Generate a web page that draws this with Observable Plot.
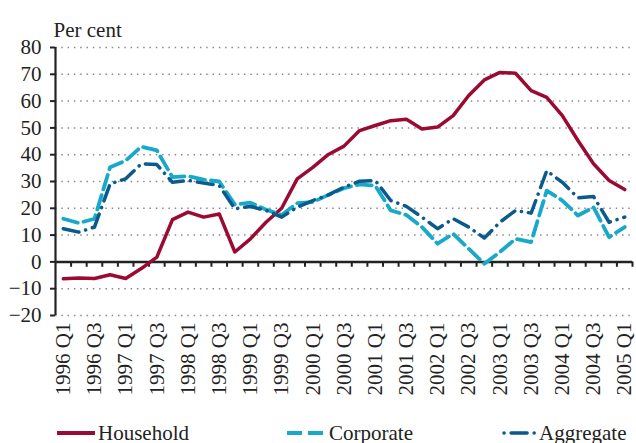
<!DOCTYPE html>
<html>
<head>
<meta charset="utf-8">
<script src="https://cdn.jsdelivr.net/npm/d3@7"></script>
<script src="https://cdn.jsdelivr.net/npm/@observablehq/plot@0.6"></script>
<style>
  html, body { margin: 0; padding: 0; background: #fff; }
  #wrap { position: relative; width: 636px; height: 443px; overflow: hidden; font-family: "Liberation Serif", serif; color: #222; }
  .leg { position: absolute; top: 420px; height: 26px; display: flex; align-items: center; font-size: 21px; white-space: nowrap; }
  .leg svg { margin-right: 2px; }
</style>
</head>
<body>
<div id="wrap">
  <div id="chart"></div>
  <div class="leg" style="left:56px"><svg width="40" height="10"><line x1="1" y1="5" x2="39" y2="5" stroke="#9b0a33" stroke-width="4"/></svg>Household</div>
  <div class="leg" style="left:287px"><svg width="40" height="10"><line x1="0" y1="5" x2="40" y2="5" stroke="#18a9c9" stroke-width="4" stroke-dasharray="15,6"/></svg>Corporate</div>
  <div class="leg" style="left:501px"><svg width="36" height="10"><line x1="3" y1="5" x2="34" y2="5" stroke="#0a5a8c" stroke-width="3.5" stroke-linecap="round" stroke-dasharray="0.1,7,16,7"/></svg>Aggregate</div>
</div>
<script>
const quarters = [
  "1996 Q1","1996 Q2","1996 Q3","1996 Q4",
  "1997 Q1","1997 Q2","1997 Q3","1997 Q4",
  "1998 Q1","1998 Q2","1998 Q3","1998 Q4",
  "1999 Q1","1999 Q2","1999 Q3","1999 Q4",
  "2000 Q1","2000 Q2","2000 Q3","2000 Q4",
  "2001 Q1","2001 Q2","2001 Q3","2001 Q4",
  "2002 Q1","2002 Q2","2002 Q3","2002 Q4",
  "2003 Q1","2003 Q2","2003 Q3","2003 Q4",
  "2004 Q1","2004 Q2","2004 Q3","2004 Q4",
  "2005 Q1"
];
const household = [-6.3,-6.0,-6.2,-4.8,-6.2,-2.5,1.8,15.8,18.6,16.7,17.9,3.7,8.6,14.8,20.0,31.0,35.3,40.1,43.2,49.0,50.9,52.7,53.2,49.6,50.3,54.6,62.1,67.9,70.7,70.4,63.9,61.4,54.6,45.3,36.6,30.4,27.0];
const corporate = [16.1,14.5,16.1,35.3,37.8,43.0,41.6,31.6,32.0,30.7,30.0,21.4,22.1,19.5,17.5,21.9,22.3,25.0,27.5,28.9,28.5,19.2,17.5,13.0,6.8,10.5,4.9,-0.7,3.7,8.6,7.4,26.6,22.9,17.3,20.4,9.2,13.0];
const aggregate = [12.4,11.1,13.0,29.1,31.0,36.6,36.3,29.7,30.4,29.4,28.5,19.8,20.7,19.2,16.7,20.4,22.9,25.0,27.9,30.1,30.4,22.9,20.7,16.7,12.4,16.1,13.0,8.9,14.8,19.2,18.2,34.0,29.7,23.9,24.4,14.8,16.7];
const yTicks = [-20,-10,0,10,20,30,40,50,60,70,80];
const yLabel = "Per cent";

const idx = quarters.map((q, i) => i);
const labelIdx = idx.filter(i => i % 2 === 0);
const boundaries = idx.map(i => i + 0.5);

const chart = Plot.plot({
  width: 636,
  height: 415,
  marginLeft: 55,
  marginRight: 4,
  marginTop: 47,
  marginBottom: 100,
  style: { fontFamily: "Liberation Serif, serif", fontSize: "21px", color: "#222", background: "white" },
  x: { type: "linear", domain: [-0.5, quarters.length - 0.5] },
  y: { domain: [-20, 80] },
  marks: [
    Plot.gridY(yTicks, { stroke: "#8a8a8a", strokeOpacity: 1, strokeWidth: 1.5, strokeDasharray: "1.5,4.8" }),
    Plot.axisY(yTicks, { tickSize: 5, tickPadding: 9, strokeWidth: 2, stroke: "#222", label: null, fontSize: 21 }),
    Plot.axisX(labelIdx, { tickFormat: i => quarters[i], tickRotate: -90, tickSize: 0, tickPadding: 7, label: null, fontSize: 21 }),
    Plot.ruleX([-0.5], { y1: -20, y2: 80, stroke: "#222", strokeWidth: 2.2 }),
    Plot.ruleY([0], { stroke: "#222", strokeWidth: 2.5 }),
    Plot.ruleX(boundaries, { y1: 0, y2: -2, stroke: "#222", strokeWidth: 2 }),
    Plot.text([yLabel], { frameAnchor: "top-left", dx: -2, dy: -25, textAnchor: "start", fontSize: 21, fill: "#222" }),
    Plot.line(idx, { x: i => i, y: i => household[i], stroke: "#9b0a33", strokeWidth: 3.5 }),
    Plot.line(idx, { x: i => i, y: i => corporate[i], stroke: "#18a9c9", strokeWidth: 3.8, strokeDasharray: "15,6" }),
    Plot.line(idx, { x: i => i, y: i => aggregate[i], stroke: "#0a5a8c", strokeWidth: 3.5, strokeLinecap: "round", strokeDasharray: "16,7,0.1,7" })
  ]
});
document.getElementById("chart").appendChild(chart);
</script>
</body>
</html>
